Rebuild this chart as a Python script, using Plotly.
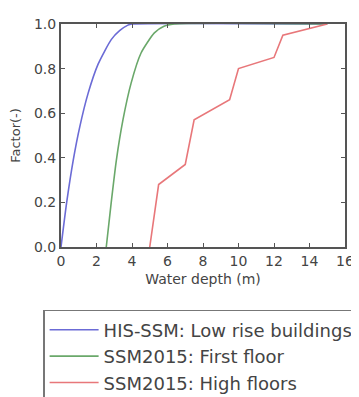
import plotly.graph_objects as go

# Data
low_rise_x = [0, 0.32, 0.69, 1.06, 1.53, 2.09, 2.83, 3.3, 3.77, 4.0, 15]
low_rise_y = [0, 0.2, 0.39, 0.54, 0.69, 0.82, 0.93, 0.97, 0.995, 1.0, 1.0]

first_floor_x = [2.55, 2.83, 3.12, 3.49, 3.95, 4.51, 5.26, 5.8, 6.38, 15]
first_floor_y = [0, 0.2, 0.39, 0.57, 0.735, 0.87, 0.96, 0.99, 1.0, 1.0]

high_floors_x = [5.0, 5.5, 7.0, 7.5, 9.5, 10.0, 12.0, 12.5, 15.0]
high_floors_y = [0, 0.28, 0.37, 0.57, 0.66, 0.80, 0.85, 0.95, 1.0]

series_names = ["HIS-SSM: Low rise buildings", "SSM2015: First floor", "SSM2015: High floors"]
x_ticks = [0, 2, 4, 6, 8, 10, 12, 14, 16]
y_ticks = [0.0, 0.2, 0.4, 0.6, 0.8, 1.0]

colors = ["#6b6bd6", "#6aa86a", "#e8777a"]

fig = go.Figure()
fig.add_trace(go.Scatter(x=low_rise_x, y=low_rise_y, mode="lines", name=series_names[0],
                         line=dict(color=colors[0], width=1.6, shape="spline", smoothing=0.6)))
fig.add_trace(go.Scatter(x=first_floor_x, y=first_floor_y, mode="lines", name=series_names[1],
                         line=dict(color=colors[1], width=1.6, shape="spline", smoothing=0.6)))
fig.add_trace(go.Scatter(x=high_floors_x, y=high_floors_y, mode="lines", name=series_names[2],
                         line=dict(color=colors[2], width=1.6)))

axis_common = dict(
    showgrid=False, zeroline=False, showline=True, linecolor="#555", linewidth=2,
    mirror="ticks", ticks="inside", ticklen=4, tickcolor="#555", tickwidth=1,
    tickfont=dict(family="DejaVu Sans", size=14, color="#444"),
)

fig.update_xaxes(range=[0, 16], tickvals=x_ticks, ticktext=[str(v) for v in x_ticks],
                 title=dict(text="Water depth (m)", font=dict(family="DejaVu Sans", size=14, color="#444"),
                            standoff=6),
                 **axis_common)
fig.update_yaxes(range=[0, 1], tickvals=y_ticks, ticktext=[f"{v:.1f}" for v in y_ticks],
                 title=dict(text="Factor(-)", font=dict(family="DejaVu Sans", size=13, color="#444"),
                            standoff=10),
                 **axis_common)

# The page body adds an 8px margin, so the figure is 351x389 and margins are offset by 8px
fig.update_layout(
    width=351, height=389,
    margin=dict(l=53, r=14, t=16, b=150, autoexpand=False),
    paper_bgcolor="white", plot_bgcolor="white",
    font=dict(family="DejaVu Sans", color="#444"),
    showlegend=True,
    legend=dict(
        x=-0.063, y=-0.2825, xanchor="left", yanchor="top",
        bordercolor="#777", borderwidth=1.5, bgcolor="white",
        font=dict(family="DejaVu Sans", size=18, color="#444"),
        itemwidth=49,
    ),
)

fig.write_html("out.html")
